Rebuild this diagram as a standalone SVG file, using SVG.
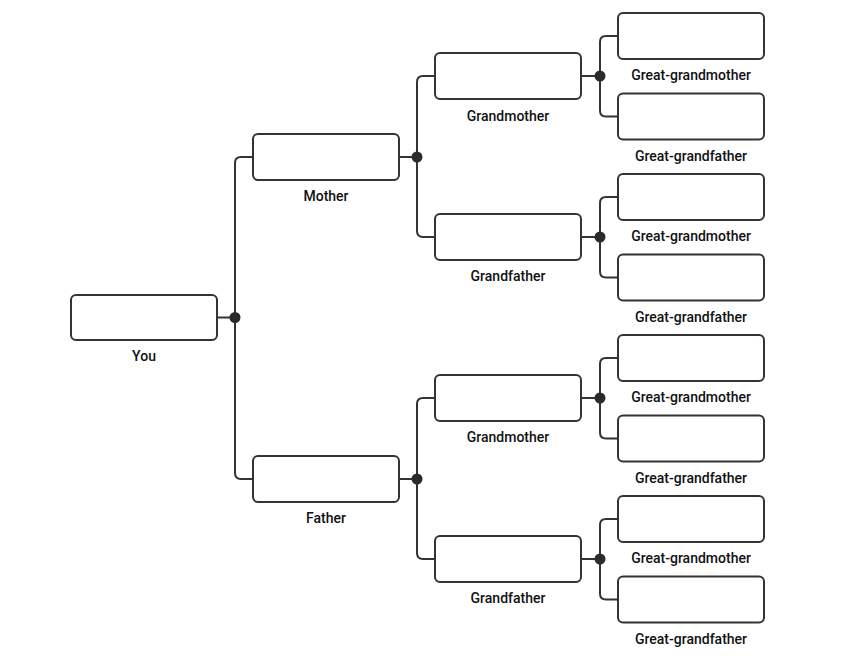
<svg xmlns="http://www.w3.org/2000/svg" width="849" height="656" viewBox="0 0 849 656">
<style>
.box{fill:#fff;stroke:#333;stroke-width:2}
.ln{fill:none;stroke:#333;stroke-width:2}
.dot{fill:#2b2b2b}
.lbl{font-family:Roboto,"Liberation Sans",sans-serif;font-size:14px;font-weight:500;fill:#111;text-anchor:middle}
</style>
<rect width="849" height="656" fill="#fff"/>
<g id="connectors">
<path class="ln" d="M217 317.5H235M253 157H241Q235 157 235 163V473Q235 479 241 479H253"/>
<circle class="dot" cx="235" cy="317.5" r="5.5"/>
<path class="ln" d="M399 157H417M435 76H423Q417 76 417 82V231Q417 237 423 237H435"/>
<circle class="dot" cx="417" cy="157" r="5.5"/>
<path class="ln" d="M399 479H417M435 398H423Q417 398 417 404V553Q417 559 423 559H435"/>
<circle class="dot" cx="417" cy="479" r="5.5"/>
<path class="ln" d="M581 76H600M618 36H606Q600 36 600 42V110.5Q600 116.5 606 116.5H618"/>
<circle class="dot" cx="600" cy="76" r="5.5"/>
<path class="ln" d="M581 237H600M618 197H606Q600 197 600 203V271.5Q600 277.5 606 277.5H618"/>
<circle class="dot" cx="600" cy="237" r="5.5"/>
<path class="ln" d="M581 398H600M618 358H606Q600 358 600 364V432.5Q600 438.5 606 438.5H618"/>
<circle class="dot" cx="600" cy="398" r="5.5"/>
<path class="ln" d="M581 559H600M618 519H606Q600 519 600 525V593.5Q600 599.5 606 599.5H618"/>
<circle class="dot" cx="600" cy="559" r="5.5"/>
</g>
<g id="you"><rect class="box" x="71" y="295" width="146" height="45" rx="5"/><text class="lbl" x="144" y="361">You</text></g>
<g id="mother"><rect class="box" x="253" y="134" width="146" height="46" rx="5"/><text class="lbl" x="326" y="201">Mother</text></g>
<g id="father"><rect class="box" x="253" y="456" width="146" height="46" rx="5"/><text class="lbl" x="326" y="523">Father</text></g>
<g id="gm1"><rect class="box" x="435" y="53" width="146" height="46" rx="5"/><text class="lbl" x="508" y="121">Grandmother</text></g>
<g id="gf1"><rect class="box" x="435" y="214" width="146" height="46" rx="5"/><text class="lbl" x="508" y="281">Grandfather</text></g>
<g id="gm2"><rect class="box" x="435" y="375" width="146" height="46" rx="5"/><text class="lbl" x="508" y="442">Grandmother</text></g>
<g id="gf2"><rect class="box" x="435" y="536" width="146" height="46" rx="5"/><text class="lbl" x="508" y="603">Grandfather</text></g>
<g id="ggm1"><rect class="box" x="618" y="13" width="146" height="46" rx="5"/><text class="lbl" x="691" y="80">Great-grandmother</text></g>
<g id="ggf1"><rect class="box" x="618" y="93.5" width="146" height="46" rx="5"/><text class="lbl" x="691" y="160.5">Great-grandfather</text></g>
<g id="ggm2"><rect class="box" x="618" y="174" width="146" height="46" rx="5"/><text class="lbl" x="691" y="241">Great-grandmother</text></g>
<g id="ggf2"><rect class="box" x="618" y="254.5" width="146" height="46" rx="5"/><text class="lbl" x="691" y="321.5">Great-grandfather</text></g>
<g id="ggm3"><rect class="box" x="618" y="335" width="146" height="46" rx="5"/><text class="lbl" x="691" y="402">Great-grandmother</text></g>
<g id="ggf3"><rect class="box" x="618" y="415.5" width="146" height="46" rx="5"/><text class="lbl" x="691" y="482.5">Great-grandfather</text></g>
<g id="ggm4"><rect class="box" x="618" y="496" width="146" height="46" rx="5"/><text class="lbl" x="691" y="563">Great-grandmother</text></g>
<g id="ggf4"><rect class="box" x="618" y="576.5" width="146" height="46" rx="5"/><text class="lbl" x="691" y="643.5">Great-grandfather</text></g>
</svg>
